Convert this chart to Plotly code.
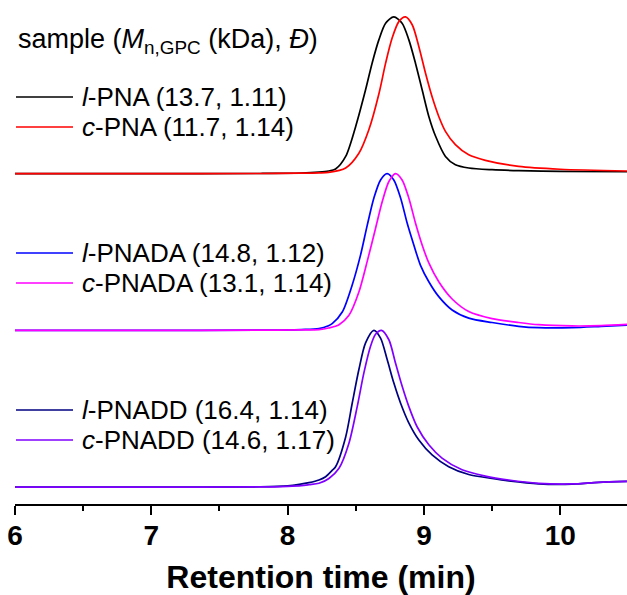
import plotly.graph_objects as go

# GPC traces: retention time (min) and normalised RI intensity for each sample
t_l_pna = [6.0, 7.0, 7.8, 8.1, 8.23, 8.30, 8.352, 8.426, 8.499, 8.572, 8.620, 8.670, 8.719, 8.779,
           8.840, 8.889, 8.938, 8.987, 9.036, 9.085, 9.158, 9.231, 9.329, 9.50, 9.695, 10.0, 10.49]
i_l_pna = [0.0, 0.0, 0.001, 0.004, 0.01, 0.017, 0.03, 0.11, 0.30, 0.535, 0.705, 0.855, 0.96, 1.0,
           0.96, 0.855, 0.705, 0.535, 0.365, 0.24, 0.11, 0.057, 0.036, 0.025, 0.019, 0.015, 0.012]

t_c_pna = [6.0, 7.0, 7.8, 8.1, 8.23, 8.30, 8.426, 8.523, 8.596, 8.670, 8.719, 8.767, 8.816, 8.865,
           8.914, 8.963, 9.012, 9.060, 9.109, 9.158, 9.231, 9.329, 9.451, 9.695, 10.0, 10.49]
i_c_pna = [0.0, 0.0, 0.001, 0.003, 0.005, 0.008, 0.036, 0.13, 0.28, 0.51, 0.705, 0.865, 0.97, 1.0,
           0.95, 0.81, 0.64, 0.49, 0.365, 0.27, 0.185, 0.12, 0.085, 0.046, 0.028, 0.017]

t_l_pnada = [6.0, 7.0, 7.8, 8.1, 8.23, 8.30, 8.327, 8.401, 8.474, 8.535, 8.584, 8.633, 8.682, 8.730,
             8.779, 8.829, 8.877, 8.926, 8.975, 9.036, 9.109, 9.207, 9.329, 9.50, 9.695, 9.842,
             10.086, 10.30, 10.49]
i_l_pnada = [0.0, 0.0, 0.001, 0.005, 0.011, 0.03, 0.043, 0.117, 0.29, 0.48, 0.67, 0.845, 0.96, 1.0,
             0.96, 0.845, 0.685, 0.545, 0.415, 0.31, 0.215, 0.13, 0.078, 0.05, 0.026, 0.017,
             0.017, 0.025, 0.033]

t_c_pnada = [6.0, 7.0, 7.8, 8.1, 8.23, 8.30, 8.377, 8.450, 8.523, 8.584, 8.645, 8.694, 8.743, 8.792,
             8.840, 8.889, 8.938, 8.987, 9.036, 9.109, 9.207, 9.329, 9.500, 9.695, 9.842, 10.086,
             10.30, 10.49]
i_c_pnada = [0.0, 0.0, 0.001, 0.003, 0.005, 0.015, 0.036, 0.096, 0.245, 0.44, 0.65, 0.82, 0.95, 1.0,
             0.96, 0.845, 0.685, 0.545, 0.43, 0.31, 0.20, 0.12, 0.075, 0.05, 0.036, 0.028,
             0.03, 0.038]

t_l_pnadd = [6.0, 7.0, 7.8, 8.0, 8.086, 8.157, 8.23, 8.279, 8.325, 8.352, 8.426, 8.474, 8.523, 8.572,
             8.633, 8.682, 8.730, 8.779, 8.829, 8.889, 8.963, 9.060, 9.182, 9.329, 9.500, 9.622,
             9.842, 10.086, 10.281, 10.49]
i_l_pnadd = [0.0, 0.0, 0.002, 0.008, 0.017, 0.028, 0.045, 0.066, 0.105, 0.13, 0.32, 0.535, 0.75, 0.92,
             1.0, 0.95, 0.815, 0.665, 0.535, 0.41, 0.30, 0.205, 0.13, 0.08, 0.055, 0.04,
             0.021, 0.019, 0.03, 0.036]

t_c_pnadd = [6.0, 7.0, 7.8, 8.0, 8.1, 8.157, 8.23, 8.303, 8.377, 8.450, 8.511, 8.560, 8.609, 8.645,
             8.689, 8.743, 8.792, 8.840, 8.889, 8.950, 9.036, 9.133, 9.280, 9.451, 9.622, 9.842,
             10.086, 10.281, 10.49]
i_c_pnadd = [0.0, 0.0, 0.001, 0.005, 0.009, 0.015, 0.024, 0.055, 0.12, 0.28, 0.515, 0.73, 0.90, 0.975,
             1.0, 0.94, 0.79, 0.645, 0.515, 0.385, 0.27, 0.185, 0.11, 0.07, 0.045, 0.024,
             0.02, 0.03, 0.036]

labels = ["<i>l</i>-PNA (13.7, 1.11)", "<i>c</i>-PNA (11.7, 1.14)",
          "<i>l</i>-PNADA (14.8, 1.12)", "<i>c</i>-PNADA (13.1, 1.14)",
          "<i>l</i>-PNADD (16.4, 1.14)", "<i>c</i>-PNADD (14.6, 1.17)"]
offsets = [2, 2, 1, 1, 0, 0]
colors = ["#000000", "#ff0000", "#0000ff", "#ff00ff", "#000080", "#8000ff"]
x_ticks = [6, 7, 8, 9, 10]

series = [(t_l_pna, i_l_pna), (t_c_pna, i_c_pna), (t_l_pnada, i_l_pnada),
          (t_c_pnada, i_c_pnada), (t_l_pnadd, i_l_pnadd), (t_c_pnadd, i_c_pnadd)]

FONT = "Arial, Liberation Sans, sans-serif"
W, H = 627, 595
ML, MR, MT, MB = 15, 0, 0, 91
PW, PH = W - ML - MR, H - MT - MB


def px(xp):
    return (xp - ML) / PW


def py(yp):
    return (MT + PH - yp) / PH


fig = go.Figure()
for (t, inten), off, col, lab in zip(series, offsets, colors, labels):
    fig.add_trace(go.Scatter(
        x=t, y=[v + off for v in inten], mode="lines", name=lab,
        line=dict(color=col, width=1.7, shape="spline", smoothing=0.8),
        showlegend=False, hoverinfo="skip"))

# legend block: heading, then one short line sample + label per trace
fig.add_annotation(x=px(16), y=py(41), xref="paper", yref="paper",
                   xanchor="left", yanchor="middle", showarrow=False,
                   text="sample (<i>M</i><sub>n,GPC</sub> (kDa), <i>Đ</i>)",
                   font=dict(family=FONT, size=27, color="black"))
legend_rows = [97, 127, 253, 283, 410, 440]
for row_y, col, lab in zip(legend_rows, colors, labels):
    fig.add_shape(type="line", xref="paper", yref="paper",
                  x0=px(16), x1=px(73), y0=py(row_y), y1=py(row_y),
                  line=dict(color=col, width=1.6))
    fig.add_annotation(x=px(80), y=py(row_y), xref="paper", yref="paper",
                       xanchor="left", yanchor="middle", showarrow=False,
                       text=lab, font=dict(family=FONT, size=26, color="black"))

fig.update_xaxes(
    range=[6, 10.49], tickvals=x_ticks, showgrid=False, zeroline=False,
    showline=True, linecolor="black", linewidth=2,
    ticks="outside", ticklen=9, tickwidth=2, tickcolor="black",
    ticklabelstandoff=-4,
    minor=dict(dtick=0.5, ticks="outside", ticklen=5, tickwidth=2, tickcolor="black"),
    tickfont=dict(family=FONT, size=28, color="black", weight="bold"),
    title=dict(text="Retention time (min)", standoff=16,
               font=dict(family=FONT, size=32, color="black", weight="bold")))
fig.update_yaxes(visible=False, range=[-0.108, 3.108])

fig.update_layout(
    width=W, height=H, margin=dict(l=ML, r=MR, t=MT, b=MB),
    paper_bgcolor="white", plot_bgcolor="white", showlegend=False)

fig.write_html("out.html")
